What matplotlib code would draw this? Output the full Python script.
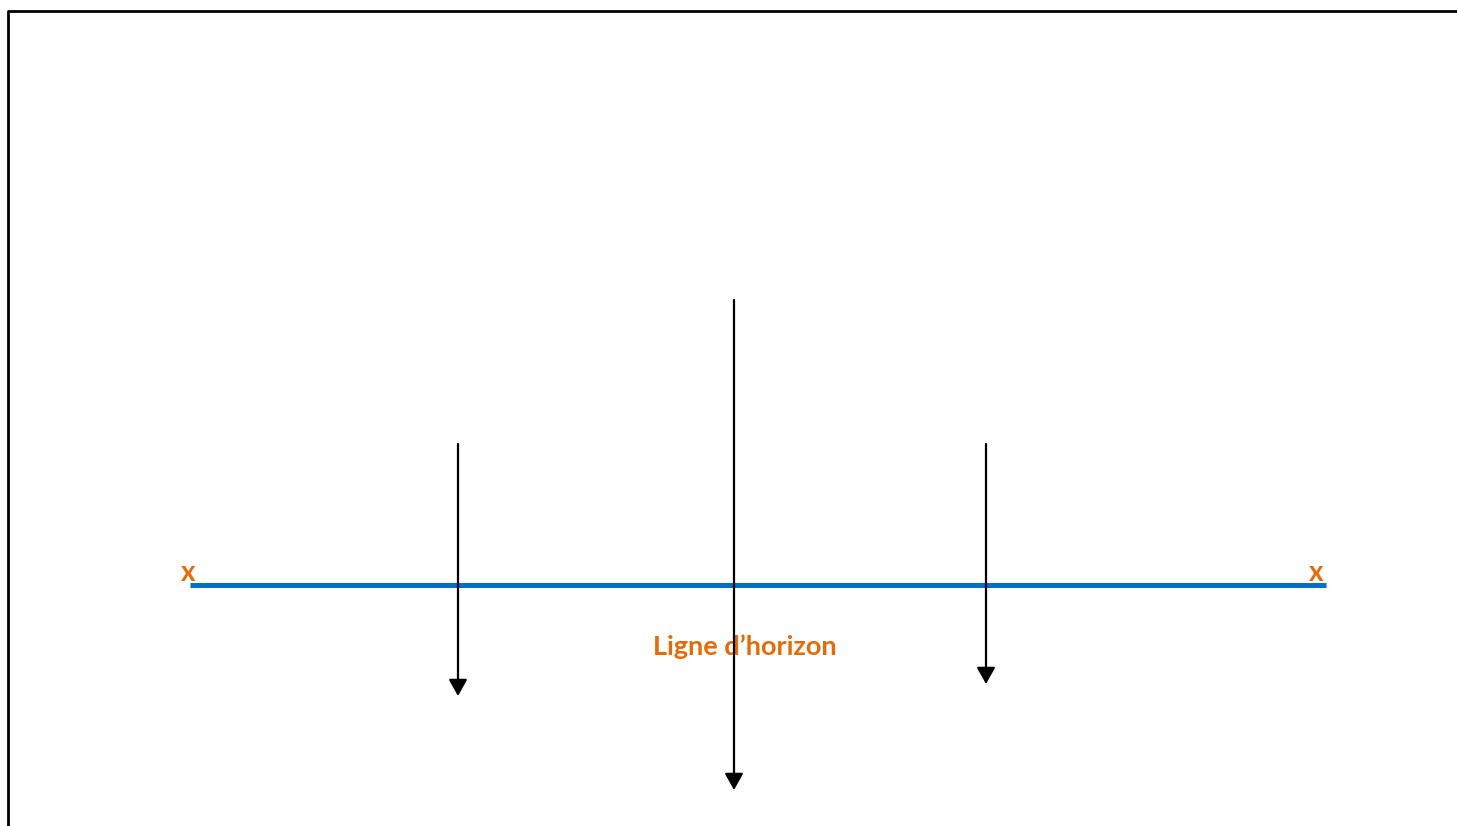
import matplotlib.pyplot as plt

# diagram data (pixel coordinates of the reference drawing)
arrow_x = [458, 734, 986]
arrow_top = [444, 300, 444]
arrow_bottom = [696, 790, 684]

horizon_x = [190, 1326]
horizon_y = [585, 585]

marker_x = [188, 1316]
marker_y = [573, 573]
marker_label = 'x'

horizon_label = 'Ligne d\u2019horizon'
horizon_label_pos = (745, 647)

orange = '#E36C0A'
blue = '#0070C0'

fig = plt.figure(figsize=(14.57, 8.26), dpi=100)
ax = fig.add_axes([0, 0, 1, 1])
ax.set_xlim(0, 1457)
ax.set_ylim(826, 0)
ax.axis('off')

# frame (top and left only visible)
ax.plot([8, 8, 1457], [826, 11, 11], color='black', lw=2, solid_capstyle='butt')

# horizon line
ax.plot(horizon_x, horizon_y, color=blue, lw=3.6, solid_capstyle='butt', zorder=2)

# x markers
for mx, my in zip(marker_x, marker_y):
    ax.text(mx, my, marker_label, color=orange, fontsize=20, fontweight='bold',
            family='Lato', ha='center', va='center')

# label
ax.text(*horizon_label_pos, horizon_label, color=orange, fontsize=19.5, fontweight='bold',
        family='Lato', ha='center', va='center', zorder=1)

# vertical arrows
for x, top, bottom in zip(arrow_x, arrow_top, arrow_bottom):
    ax.annotate('', xy=(x, bottom), xytext=(x, top),
                arrowprops=dict(arrowstyle='-|>,head_length=0.5,head_width=0.28',
                                mutation_scale=20, color='black', lw=1.6,
                                shrinkA=0, shrinkB=0),
                zorder=3)

plt.savefig('out.png', dpi=100)
